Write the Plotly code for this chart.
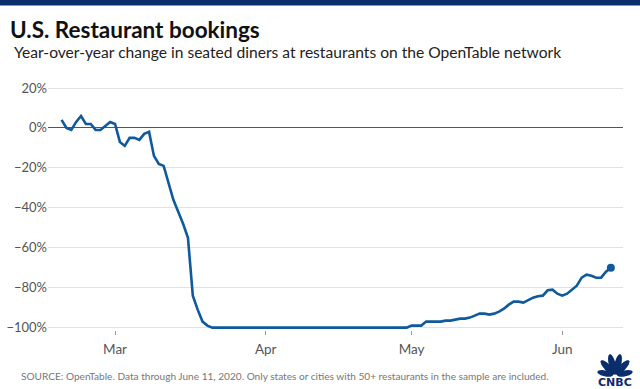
import math
import pandas as pd
import plotly.graph_objects as go

# ---------------- data ----------------
start_date = "2020-02-19"
end_date = "2020-06-11"

feb_values = [4, 0, -1, 3, 6, 2, 2, -1, -1, 1, 3]  # Feb 19 - Feb 29
mar_values = [2, -7, -9, -5, -5, -6, -3, -2, -14, -18, -19, -28, -36, -42, -48,
              -55, -84, -91, -97, -99] + [-100] * 11  # Mar 1 - Mar 31
apr_values = [-100] * 30  # Apr 1 - Apr 30
may_values = [-99, -99, -99, -97, -97, -97, -97, -96.5, -96.5, -96, -95.5, -95.5,
              -95, -94, -93, -93, -93.5, -93, -92, -90.5, -88.5, -87, -87, -87.5,
              -86.3, -85, -84.3, -84, -81.3, -81, -83]  # May 1 - May 31
jun_values = [-84, -83, -81, -79, -75, -73.5, -74, -75, -75, -72, -70]  # Jun 1 - Jun 11

values = feb_values + mar_values + apr_values + may_values + jun_values
dates = pd.date_range(start_date, end_date, freq="D")

y_tickvals = [20, 0, -20, -40, -60, -80, -100]
y_ticktext = ["20%", "0%", "\u221220%", "\u221240%", "\u221260%", "\u221280%", "\u2212100%"]
x_tickvals = ["2020-03-01", "2020-04-01", "2020-05-01", "2020-06-01"]
x_ticktext = ["Mar", "Apr", "May", "Jun"]

title_text = "U.S. Restaurant bookings"
subtitle_text = "Year-over-year change in seated diners at restaurants on the OpenTable network"
source_text = ("SOURCE: OpenTable. Data through June 11, 2020. Only states or cities with "
               "50+ restaurants in the sample are included.")

# ---------------- layout helpers ----------------
W, H = 640, 389
ML, MR, MT, MB = 48, 17, 86, 59
PW, PH = W - ML - MR, H - MT - MB


def px(xp):
    return (xp - ML) / PW


def py(yp):
    return (H - MB - yp) / PH


LINE_BLUE = "#0f5a9c"
NAVY = "#0b2d6b"
FONT = "Lato"

fig = go.Figure()
fig.add_trace(go.Scatter(x=dates, y=values, mode="lines",
                         line=dict(color=LINE_BLUE, width=2.6), hoverinfo="skip"))
fig.add_trace(go.Scatter(x=[dates[-1]], y=[values[-1]], mode="markers",
                         marker=dict(color=LINE_BLUE, size=8), hoverinfo="skip"))

shapes = []
# top band
shapes.append(dict(type="rect", xref="paper", yref="paper",
                   x0=px(0), x1=px(W), y0=py(0), y1=py(5.5),
                   fillcolor=NAVY, line=dict(width=0), layer="above"))

# CNBC peacock feathers
bx, by = 615.0, 375.5
for ang, dist, a, b in [(168, 10, 8, 3.0), (133, 11, 9.5, 3.3), (104, 11.5, 10.5, 3.4),
                        (76, 11.5, 10.5, 3.4), (47, 11, 9.5, 3.3), (12, 10, 8, 3.0)]:
    th = math.radians(ang)
    ux, uy = math.cos(th), -math.sin(th)
    vx, vy = -uy, ux
    cx, cy = bx + dist * ux, by + dist * uy
    pts = []
    for k in range(24):
        t = 2 * math.pi * k / 24
        X = cx + a * math.cos(t) * ux + b * math.sin(t) * vx
        Y = cy + a * math.cos(t) * uy + b * math.sin(t) * vy
        pts.append((px(X), py(Y)))
    path = "M " + " L ".join(f"{x:.5f},{y:.5f}" for x, y in pts) + " Z"
    shapes.append(dict(type="path", xref="paper", yref="paper", path=path,
                       fillcolor=NAVY, line=dict(width=0), layer="above"))

annotations = [
    dict(text=f"<b>{title_text}</b>", x=px(8), y=py(30), xref="paper", yref="paper",
         xanchor="left", yanchor="middle", showarrow=False,
         font=dict(family=FONT, size=22.5, color="#111111")),
    dict(text=subtitle_text, x=px(12), y=py(52.5), xref="paper", yref="paper",
         xanchor="left", yanchor="middle", showarrow=False,
         font=dict(family=FONT, size=15.6, color="#222222")),
    dict(text=source_text, x=px(19), y=py(376), xref="paper", yref="paper",
         xanchor="left", yanchor="middle", showarrow=False,
         font=dict(family=FONT, size=10.1, color="#777777")),
    dict(text="<b>CNBC</b>", x=px(615), y=py(382), xref="paper", yref="paper",
         xanchor="center", yanchor="middle", showarrow=False,
         font=dict(family="DejaVu Sans", size=11, color=NAVY)),
]

fig.update_layout(
    width=W, height=H,
    margin=dict(l=ML, r=MR, t=MT, b=MB, pad=0, autoexpand=False),
    paper_bgcolor="white", plot_bgcolor="white",
    showlegend=False,
    shapes=shapes,
    annotations=annotations,
    font=dict(family=FONT),
)
fig.update_xaxes(
    type="date", automargin=False,
    range=["2020-02-16 05:00", "2020-06-13 12:00"],
    tickvals=x_tickvals, ticktext=x_ticktext,
    ticks="outside", ticklen=4, tickwidth=1, tickcolor="#999999",
    showgrid=False, zeroline=False, showline=False,
    tickfont=dict(family=FONT, size=13.5, color="#555555"),
    ticklabelstandoff=3,
)
fig.update_yaxes(
    automargin=False,
    range=[-101.2, 21],
    tickvals=y_tickvals, ticktext=y_ticktext,
    showgrid=True, gridcolor="#e2e2e2", gridwidth=1,
    zeroline=True, zerolinecolor="#555555", zerolinewidth=1.4,
    showline=False, ticks="",
    tickfont=dict(family=FONT, size=13, color="#555555"),
)

fig.write_html("out.html", config={"displayModeBar": False},
               post_script="document.body.style.margin='0px';")
